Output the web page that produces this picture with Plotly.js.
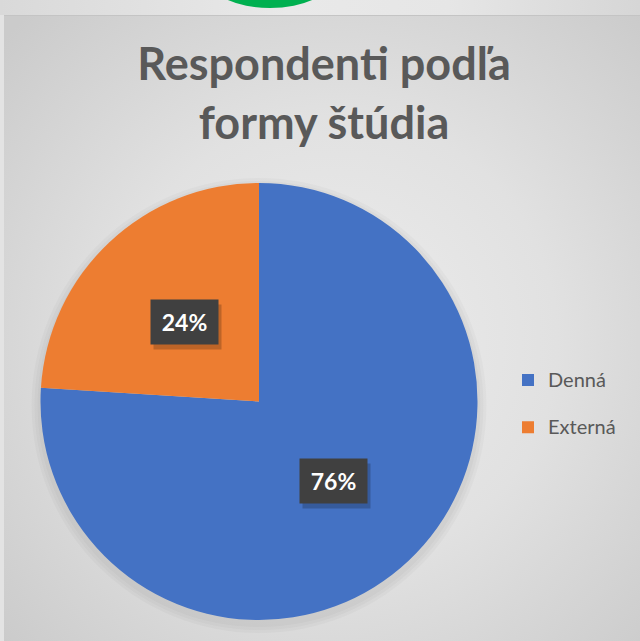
<!DOCTYPE html>
<html>
<head>
<meta charset="utf-8">
<script src="https://cdn.plot.ly/plotly-3.0.1.min.js"></script>
<style>
  html, body { margin:0; padding:0; width:640px; height:641px; overflow:hidden; background:#e3e3e3; }
  #strip { position:absolute; left:0; top:0; width:640px; height:15px;
    background: linear-gradient(to right, #d9d9d9 0%, #e9e9e9 45%, #e6e6e6 70%, #d6d6d6 100%); overflow:hidden; }
  #green { position:absolute; left:208px; top:-52px; width:124px; height:60px; border-radius:50%; background:#00b050; }
  #panel { position:absolute; left:4px; top:15px; width:636px; height:626px;
    border-top:1px solid #c4c4c4; box-sizing:border-box;
    background: radial-gradient(ellipse 70% 72% at 52% 52%, #ededed 0%, #e1e1e1 50%, #cbcbcb 100%); }
  #chart { position:absolute; left:0; top:0; width:640px; height:641px; }
</style>
</head>
<body>
<div id="strip"><div id="green"></div></div>
<div id="panel"></div>
<div id="chart"></div>
<script>
// ---- data ----
const categories = ["Denná", "Externá"];
const values = [76, 24];
const colors = ["#4472c4", "#ed7d31"];
const titleText = "Respondenti podľa<br>formy štúdia";

// ---- layout constants ----
const W = 640, H = 641;
const cx = 259, cy = 401.5, R = 218.5;
const px2x = p => p / W;
const py2y = p => 1 - p / H;

const total = values.reduce((a, b) => a + b, 0);

// label annotations placed at half radius along each slice's mid-angle
const annotations = [];
let cum = 0;
values.forEach((v, i) => {
  const theta = (cum + v / 2) / total * 2 * Math.PI;
  cum += v;
  const x = cx + 0.5 * R * Math.sin(theta);
  const y = cy - 0.5 * R * Math.cos(theta);
  const txt = Math.round(v / total * 100) + "%";
  annotations.push({
    x: px2x(x + 3), y: py2y(y + 5), xref: "paper", yref: "paper", showarrow: false,
    xanchor: "center", yanchor: "middle",
    text: " ", width: 65, height: 42, bgcolor: "rgba(0,0,0,0.2)", font: {size: 22}
  });
  annotations.push({
    x: px2x(x), y: py2y(y), xref: "paper", yref: "paper", showarrow: false,
    xanchor: "center", yanchor: "middle",
    text: "<b>" + txt + "</b>", width: 65, height: 42, bgcolor: "#404040",
    font: {family: "Lato, 'Open Sans', sans-serif", size: 23, color: "#ffffff"}
  });
});

// soft shadow behind the pie
const shapes = [];
[9, 6, 3].forEach(d => {
  const r = R + d;
  shapes.push({
    type: "circle", xref: "paper", yref: "paper", layer: "below",
    x0: px2x(cx - r), x1: px2x(cx + r), y0: py2y(cy + 4 + r), y1: py2y(cy + 4 - r),
    fillcolor: "rgba(0,0,0,0.025)", line: {width: 0}
  });
});

const trace = {
  type: "pie",
  labels: categories.map(c => '<span style="font-size:20px">' + c + "</span><br>&nbsp;"),
  values: values,
  marker: {colors: colors, line: {width: 0}},
  sort: false,
  direction: "clockwise",
  rotation: 0,
  textinfo: "none",
  hoverinfo: "none",
  domain: {x: [px2x(cx - R), px2x(cx + R)], y: [py2y(cy + R), py2y(cy - R)]}
};

const layout = {
  width: W, height: H,
  margin: {l: 0, r: 0, t: 0, b: 0, pad: 0},
  paper_bgcolor: "rgba(0,0,0,0)",
  plot_bgcolor: "rgba(0,0,0,0)",
  title: {
    text: "<b>" + titleText + "</b>",
    font: {family: "Lato, 'Open Sans', sans-serif", size: 45, color: "#595959"},
    x: px2x(324), xanchor: "center", xref: "container",
    y: py2y(80), yanchor: "top", yref: "container"
  },
  showlegend: true,
  legend: {
    x: px2x(508), xanchor: "left", y: py2y(415), yanchor: "middle",
    valign: "top",
    font: {family: "Lato, 'Open Sans', sans-serif", size: 17, color: "#595959"},
    bgcolor: "rgba(0,0,0,0)", itemclick: false, itemdoubleclick: false
  },
  annotations: annotations,
  shapes: shapes
};

Plotly.newPlot("chart", [trace], layout, {displayModeBar: false, staticPlot: true});
</script>
</body>
</html>
